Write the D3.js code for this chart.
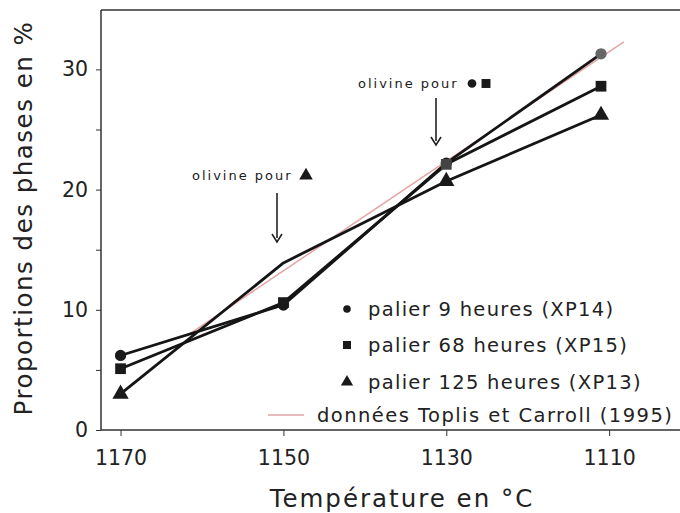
<!DOCTYPE html>
<html>
<head>
<meta charset="utf-8">
<script src="https://cdn.jsdelivr.net/npm/d3@7"></script>
<style>
  html, body { margin: 0; padding: 0; background: #fff; }
  svg { display: block; font-family: "DejaVu Sans", Verdana, sans-serif; }
</style>
</head>
<body>
<svg id="chart" width="680" height="513"></svg>
<script>
// ---- data ----
const temperatures = [1170, 1150, 1130, 1111];
const xp14 = [6.2, 10.4, 22.2, 31.3];   // palier 9 heures (circle)
const xp15 = [5.1, 10.6, 22.1, 28.6];   // palier 68 heures (square)
const xp13 = [3.0, 13.9, 20.7, 26.2];   // palier 125 heures (triangle)
const xp13Markers = [true, false, true, true];
const toplisT = [1161.5, 1108.2];
const toplisV = [8.0, 32.3];
const xTicks = [1170, 1150, 1130, 1110];
const yTicks = [0, 10, 20, 30];
const yMinorTicks = [5, 15, 25];
const legendLabels = ["palier 9 heures (XP14)", "palier 68 heures (XP15)", "palier 125 heures (XP13)", "données Toplis et Carroll (1995)"];

// ---- layout ----
const svg = d3.select("#chart");
const L = 101, R = 680, T = 10, B = 430;
const x = d3.scaleLinear().domain([1172.4, 1101.3]).range([L, R]);
const y = d3.scaleLinear().domain([0, 35]).range([B, 9.3]);

const ink = "#151515";

// frame top line
svg.append("line").attr("x1", L).attr("x2", R).attr("y1", T).attr("y2", T)
  .attr("stroke", "#333").attr("stroke-width", 1.5);

// axes
const xAxis = svg.append("g").attr("transform", `translate(0,${B})`)
  .call(d3.axisBottom(x).tickValues(xTicks).tickSize(6).tickPadding(14).tickFormat(d3.format("d")));
const yAxis = svg.append("g").attr("transform", `translate(${L},0)`)
  .call(d3.axisLeft(y).tickValues(yTicks).tickSize(5).tickPadding(8));
svg.append("g").attr("transform", `translate(${L},0)`)
  .call(d3.axisLeft(y).tickValues(yMinorTicks).tickSize(5).tickFormat(""))
  .select(".domain").remove();

[xAxis, yAxis].forEach(g => {
  g.select(".domain").attr("stroke", "#333").attr("stroke-width", 1.5);
  g.selectAll(".tick line").attr("stroke", "#333");
  g.selectAll(".tick text").attr("font-size", 20.5).attr("fill", "#222")
    .attr("font-family", "'DejaVu Sans', Verdana, sans-serif");
});
xAxis.select(".domain").attr("d", `M${L},0H${R}`);
yAxis.select(".domain").attr("d", `M0,${B}V${T}`);
svg.selectAll("g .tick line").attr("stroke", "#333");

// axis titles
svg.append("text").attr("x", 402).attr("y", 507).attr("text-anchor", "middle")
  .attr("font-size", 24.5).attr("letter-spacing", 2).attr("fill", "#222")
  .text("Température en °C");
svg.append("text").attr("transform", "translate(32,218) rotate(-90)")
  .attr("text-anchor", "middle").attr("font-size", 24.5).attr("letter-spacing", 1.5).attr("fill", "#222")
  .text("Proportions des phases en %");

// Toplis line
svg.append("path")
  .datum(toplisT.map((t, i) => [t, toplisV[i]]))
  .attr("d", d3.line().x(d => x(d[0])).y(d => y(d[1])))
  .attr("fill", "none").attr("stroke", "#e5a3a3").attr("stroke-width", 1.5);

// series lines
const line = d3.line().x(d => x(d[0])).y(d => y(d[1]));
[xp14, xp15, xp13].forEach(vals => {
  svg.append("path")
    .datum(temperatures.map((t, i) => [t, vals[i]]))
    .attr("d", line)
    .attr("fill", "none").attr("stroke", ink).attr("stroke-width", 2.8)
    .attr("stroke-linejoin", "round");
});

// markers
const sym = (type, size) => d3.symbol().type(type).size(size)();
svg.append("g").selectAll("path").data(temperatures.map((t, i) => [t, xp14[i]]))
  .join("path").attr("d", sym(d3.symbolCircle, 100))
  .attr("transform", d => `translate(${x(d[0])},${y(d[1])})`)
  .attr("fill", (d, i) => i === 3 ? "#666" : "#1a1a1a");
svg.append("g").selectAll("path").data(temperatures.map((t, i) => [t, xp15[i]]))
  .join("path").attr("d", sym(d3.symbolSquare, 115))
  .attr("transform", d => `translate(${x(d[0])},${y(d[1])})`)
  .attr("fill", (d, i) => i === 2 ? "#444" : "#1a1a1a");
svg.append("g").selectAll("path").data(temperatures.map((t, i) => [t, xp13[i]]).filter((d, i) => xp13Markers[i]))
  .join("path").attr("d", sym(d3.symbolTriangle, 115))
  .attr("transform", d => `translate(${x(d[0])},${y(d[1])})`)
  .attr("fill", "#1a1a1a");

// annotations
function annot(tx, ty, ax, ay1, ay2, marks) {
  svg.append("text").attr("x", tx).attr("y", ty).attr("font-size", 13)
    .attr("font-weight", 500).attr("letter-spacing", 2.0).attr("fill", "#1a1a1a").text("olivine pour");
  let mx = tx + 114;
  marks.forEach(m => {
    svg.append("path").attr("d", sym(m, m === d3.symbolCircle ? 60 : 80))
      .attr("transform", `translate(${mx},${ty - 4.5})`).attr("fill", "#1a1a1a");
    mx += 14;
  });
  svg.append("line").attr("x1", ax).attr("x2", ax).attr("y1", ay1).attr("y2", ay2 - 4)
    .attr("stroke", "#222").attr("stroke-width", 1.6);
  svg.append("path").attr("d", `M${ax - 5},${ay2 - 8}L${ax},${ay2}L${ax + 5},${ay2 - 8}`)
    .attr("fill", "none").attr("stroke", "#222").attr("stroke-width", 1.6);
}
annot(192, 180, 277, 193, 242, [d3.symbolTriangle]);
annot(358, 88, 436, 98, 145, [d3.symbolCircle, d3.symbolSquare]);

// legend
const legendY = [309, 345, 382, 415];
const legendSyms = [d3.symbolCircle, d3.symbolSquare, d3.symbolTriangle];
legendSyms.forEach((s, i) => {
  svg.append("path").attr("d", sym(s, s === d3.symbolCircle ? 45 : 65))
    .attr("transform", `translate(347,${legendY[i]})`).attr("fill", "#1a1a1a");
});
svg.append("line").attr("x1", 268).attr("x2", 304).attr("y1", legendY[3]).attr("y2", legendY[3])
  .attr("stroke", "#e5a3a3").attr("stroke-width", 1.5);
legendLabels.forEach((lab, i) => {
  svg.append("text").attr("x", i < 3 ? 368 : 317).attr("y", legendY[i] + 7)
    .attr("font-size", 19.5).attr("letter-spacing", i < 3 ? 1.3 : 1.45).attr("fill", "#222").text(lab);
});
</script>
</body>
</html>
